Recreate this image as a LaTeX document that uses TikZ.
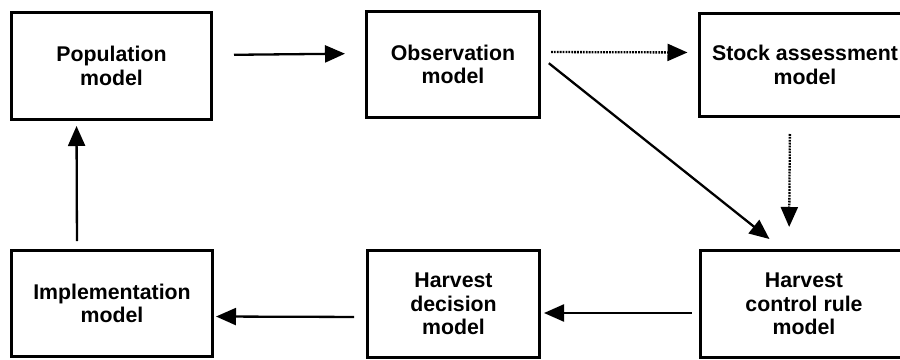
\documentclass[tikz,border=0pt]{standalone}
\usepackage{fontspec}
\setmainfont{Liberation Sans}
\usetikzlibrary{arrows.meta}

\begin{document}
\begin{tikzpicture}
[x=1pt,y=-1pt]
\tikzset{model/.style={draw,line width=3pt,align=center,inner sep=0pt,
  font=\bfseries\fontsize{21.3}{23.5}\selectfont}}
\tikzset{flow/.style={line width=2.3pt,-{Triangle[length=20pt,width=17pt]}}}
\tikzset{dotflow/.style={flow,dash pattern=on 1.8pt off 1.1pt}}
\useasboundingbox (0,0) rectangle (900,359);

\node [model,minimum width=200pt,minimum height=107pt] (pop) at (111.5,66) {Population\\model};
\node [model,minimum width=173pt,minimum height=106pt] (obs) at (453,64.5) {Observation\\model};
\node [model,minimum width=212pt,minimum height=103pt] (stock) at (805,65) {Stock assessment\\model};

\node [model,minimum width=201pt,minimum height=106pt] (impl) at (112,303.5) {Implementation\\model};
\node [model,minimum width=172pt,minimum height=107pt] (dec) at (453.5,304) {Harvest\\decision\\model};
\node [model,minimum width=208pt,minimum height=107pt] (hcr) at (804,304) {Harvest\\control rule\\model};

\draw [flow,shorten <=21pt,shorten >=20pt] ([yshift=11pt]pop.east) -- ([yshift=11pt]obs.west);
\draw [dotflow,shorten <=10pt,shorten >=10pt] ([yshift=12.5pt]obs.east) -- ([yshift=12.5pt]stock.west);
\draw [flow,shorten <=10pt,shorten >=16pt] ([yshift=7.5pt]obs.east) -- ([xshift=-22pt]hcr.north);
\draw [dotflow,shorten <=16pt,shorten >=22pt] ([xshift=-15pt]stock.south) -- ([xshift=-15pt]hcr.north);
\draw [flow,shorten <=7pt,shorten >=3pt] ([yshift=-9pt]hcr.west) -- ([yshift=-9pt]dec.east);
\draw [flow,shorten <=12pt,shorten >=2pt] ([yshift=-13pt]dec.west) -- ([yshift=-13pt]impl.east);
\draw [flow,shorten <=8pt,shorten >=5pt] ([xshift=-35pt]impl.north) -- ([xshift=-35pt]pop.south);

\end{tikzpicture}
\end{document}
